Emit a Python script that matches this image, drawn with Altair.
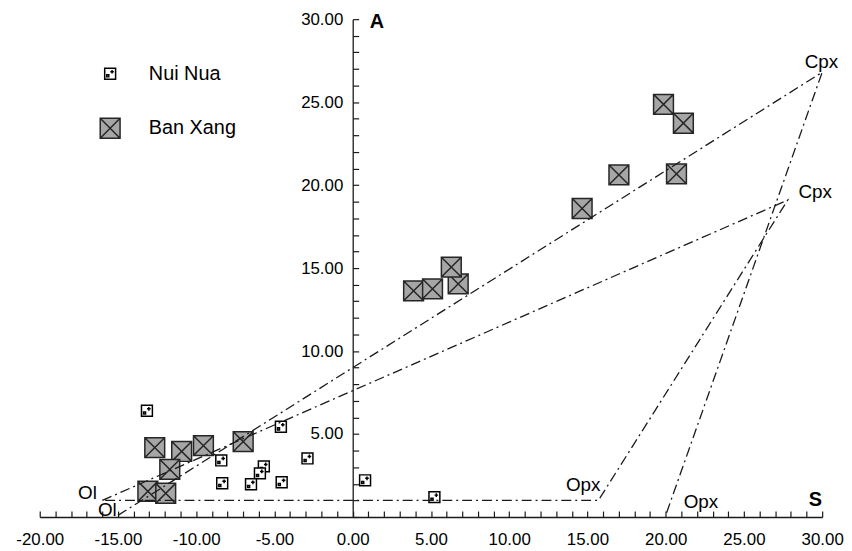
import altair as alt
import pandas as pd

# ---------------- data ----------------
series_names = ["Nui Nua", "Ban Xang"]

nui_x = [-13.15, -4.59, -8.40, -5.68, -5.93, -6.50, -8.34, -4.54, -2.89, 0.79, 5.22]
nui_y = [6.40, 5.44, 3.41, 3.05, 2.63, 1.97, 2.03, 2.09, 3.53, 2.21, 1.20]

ban_x = [-12.65, -10.93, -9.54, -11.69, -7.00, -13.09, -11.95,
         3.89, 5.10, 6.74, 6.30, 19.86, 21.13, 17.01, 20.69, 14.66]
ban_y = [4.18, 3.95, 4.30, 2.87, 4.54, 1.55, 1.43,
         13.63, 13.75, 14.05, 15.06, 24.87, 23.73, 20.62, 20.68, 18.59]

# mixing triangles  (Ol -> Cpx -> Opx [-> Ol])
tri1_x = [-16.0, 27.8, 15.7, -16.0]
tri1_y = [1.0, 19.1, 1.0, 1.0]
tri2_x = [-15.0, 30.0, 20.0]
tri2_y = [0.1, 26.8, 0.1]

node_text = ["Ol", "Ol", "Opx", "Opx", "Cpx", "Cpx"]
node_lx = [-16.95, -15.68, 14.73, 22.25, 29.95, 29.55]
node_ly = [1.43, 0.42, 1.91, 0.90, 27.4, 19.6]

end_text = ["A", "S"]
end_lx = [1.55, 29.56]
end_ly = [29.83, 1.02]

x_major = list(range(-20, 31, 5))
x_minor = list(range(-20, 31, 1))
y_major = list(range(5, 31, 5))
y_minor = list(range(0, 31, 1))

# ---------------- tables ----------------
pts = pd.DataFrame({
    "x": nui_x + ban_x,
    "y": nui_y + ban_y,
    "series": [series_names[0]] * len(nui_x) + [series_names[1]] * len(ban_x),
})
lines_df = pd.DataFrame({
    "x": tri1_x + tri2_x,
    "y": tri1_y + tri2_y,
    "path": ["t1"] * len(tri1_x) + ["t2"] * len(tri2_x),
    "seq": list(range(len(tri1_x))) + list(range(len(tri2_x))),
})
nodes_df = pd.DataFrame({"x": node_lx, "y": node_ly, "t": node_text})
ends_df = pd.DataFrame({"x": end_lx, "y": end_ly, "t": end_text})

# ---------------- layout / style ----------------
W, H = 789, 502
X0 = 20 / 50 * W          # pixel position of x = 0 inside the plot
FONT = "Liberation Sans"
INK = "#1a1a1a"

xscale = alt.Scale(domain=[-20, 30], nice=False, zero=False)
yscale = alt.Scale(domain=[0, 30], nice=False, zero=False)

LABEL_EXPR = "datum.value < 0 ? '-' + format(-datum.value, '.2f') : format(datum.value, '.2f')"

x_axis_labels = alt.Axis(
    orient="bottom", values=x_major, labelExpr=LABEL_EXPR, ticks=False, tickSize=0,
    labelPadding=15, labelFontSize=17, labelFont=FONT, labelColor="black",
    labelFlush=False, labelOverlap=False, domainColor=INK, domainWidth=1.3,
    grid=False, title=None,
)
y_axis_labels = alt.Axis(
    orient="left", offset=-X0, values=y_major, labelExpr=LABEL_EXPR, ticks=False,
    tickSize=0, labelPadding=10, labelFontSize=17, labelFont=FONT, labelColor="black",
    labelFlush=False, labelOverlap=False, domainColor=INK, domainWidth=1.3,
    grid=False, title=None,
)
x_axis_ticks = alt.Axis(
    orient="top", offset=-H, values=x_minor, labels=False, domain=False,
    tickSize=6, tickColor=INK, tickWidth=1.2, grid=False, title=None,
)
y_axis_ticks = alt.Axis(
    orient="right", offset=-(W - X0), values=y_minor, labels=False, domain=False,
    tickSize=6, tickColor=INK, tickWidth=1.2, grid=False, title=None,
)

nui_path = ("M-1,-1H1V1H-1Z M-0.62,0.2H-0.25V0.58H-0.62Z "
            "M0.35,-0.7V-0.02 M0.02,-0.36H0.68")
ban_path = "M-1,-1H1V1H-1Z M-1,-1L1,1 M-1,1L1,-1"

leg = alt.Legend(
    title=None, orient="none", legendX=60, legendY=45, labelFontSize=20,
    labelFont=FONT, labelColor="black", labelOffset=28, rowPadding=32, padding=0,
    symbolStrokeWidth=1.5, symbolOpacity=1,
)

points = alt.Chart(pts).mark_point(
    filled=True, strokeWidth=1.5, opacity=1
).encode(
    x=alt.X("x:Q", scale=xscale, axis=x_axis_labels),
    y=alt.Y("y:Q", scale=yscale, axis=y_axis_labels),
    shape=alt.Shape("series:N", scale=alt.Scale(domain=series_names, range=[nui_path, ban_path]), legend=leg),
    fill=alt.Fill("series:N", scale=alt.Scale(domain=series_names, range=["white", "#a6a6a6"]), legend=leg),
    stroke=alt.Stroke("series:N", scale=alt.Scale(domain=series_names, range=["#000000", "#262626"]), legend=leg),
    size=alt.Size("series:N", scale=alt.Scale(domain=series_names, range=[121, 400]), legend=leg),
)

lines = alt.Chart(lines_df).mark_line(
    strokeDash=[10, 4, 2, 4], color=INK, strokeWidth=1.3
).encode(
    x=alt.X("x:Q", scale=xscale, axis=x_axis_ticks),
    y=alt.Y("y:Q", scale=yscale, axis=y_axis_ticks),
    detail="path:N",
    order="seq:Q",
)

node_labels = alt.Chart(nodes_df).mark_text(
    fontSize=19, font=FONT, color="black", align="center", baseline="middle"
).encode(
    x=alt.X("x:Q", scale=xscale, axis=None),
    y=alt.Y("y:Q", scale=yscale, axis=None),
    text="t:N",
)

end_labels = alt.Chart(ends_df).mark_text(
    fontSize=20, font=FONT, fontWeight="bold", color="black", align="center", baseline="middle"
).encode(
    x=alt.X("x:Q", scale=xscale, axis=None),
    y=alt.Y("y:Q", scale=yscale, axis=None),
    text="t:N",
)

chart = alt.layer(points, lines, node_labels, end_labels).resolve_axis(
    x="independent", y="independent"
).properties(
    width=W, height=H,
    autosize=alt.AutoSizeParams(type="none"),
    padding={"left": 32, "top": 9, "right": 22, "bottom": 30},
    background="white",
).configure_view(stroke=None)

chart.save("out.html", embed_options={"renderer": "svg", "actions": False})
